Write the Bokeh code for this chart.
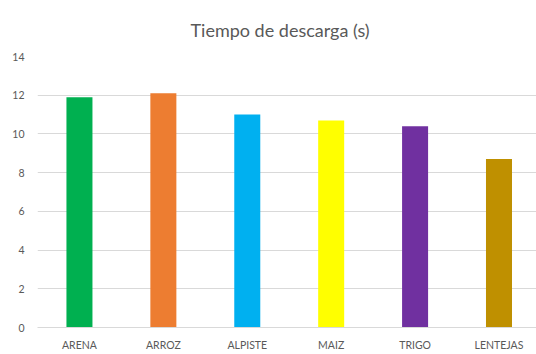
from bokeh.plotting import figure
from bokeh.models import Range1d, FixedTicker, Title
from bokeh.embed import file_html
from bokeh.resources import INLINE

# Discharge time per material
categories = ["ARENA", "ARROZ", "ALPISTE", "MAIZ", "TRIGO", "LENTEJAS"]
tiempos = [11.9, 12.1, 11.0, 10.7, 10.4, 8.7]
colores = ["#00B050", "#ED7D31", "#00B0F0", "#FFFF00", "#7030A0", "#BF9000"]
y_ticks = [0, 2, 4, 6, 8, 10, 12, 14]

FONT = "Lato"
TEXT_GRAY = "#595959"
GRID_GRAY = "#D9D9D9"

xs = list(range(len(categories)))

p = figure(
    width=536, height=354,
    x_range=Range1d(-0.5, 5.447), y_range=Range1d(0, 14),
    output_backend="svg", toolbar_location=None,
    min_border_left=37, min_border_right=0,
    min_border_top=56, min_border_bottom=27,
)
p.title = None
p.add_layout(Title(text="Tiempo de descarga (s)", align="left", offset=153,
                   text_font=FONT, text_font_size="18px", text_font_style="normal",
                   text_color=TEXT_GRAY, standoff=32), "above")

p.vbar(x=xs, top=tiempos, width=0.31, fill_color=colores, line_color=None)

p.outline_line_color = None
p.background_fill_color = "white"
p.border_fill_color = "white"

p.xgrid.grid_line_color = None
p.ygrid.grid_line_color = GRID_GRAY
p.ygrid.grid_line_width = 1

p.xaxis.ticker = FixedTicker(ticks=xs)
p.xaxis.major_label_overrides = {i: c for i, c in enumerate(categories)}
p.xaxis.axis_line_color = GRID_GRAY
p.xaxis.major_tick_line_color = None
p.xaxis.minor_tick_line_color = None
p.xaxis.major_label_standoff = 5

p.yaxis.ticker = FixedTicker(ticks=y_ticks)
p.yaxis.axis_line_color = None
p.yaxis.major_tick_line_color = None
p.yaxis.minor_tick_line_color = None
p.yaxis.major_label_standoff = 7

for ax in (p.xaxis, p.yaxis):
    ax.major_label_text_font = FONT
    ax.major_label_text_font_size = "10.5px"
    ax.major_label_text_color = TEXT_GRAY

open("out.html", "w").write(file_html(p, INLINE))
